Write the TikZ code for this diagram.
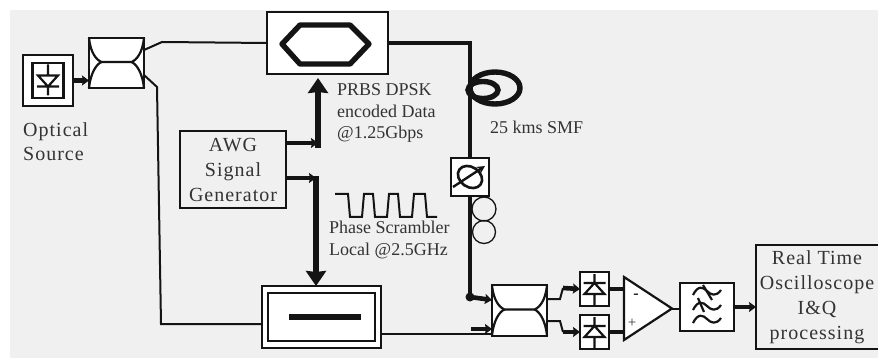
\documentclass[tikz,border=0pt]{standalone}
\usepackage{fontspec}
\setmainfont{Liberation Serif}
\newfontfamily\widefont[LetterSpace=5]{Liberation Serif}
\usetikzlibrary{shapes.geometric,arrows.meta,calc}
\definecolor{panel}{HTML}{F0F0F0}
\definecolor{ink}{HTML}{141414}
\definecolor{label}{HTML}{333333}

\begin{document}
\begin{tikzpicture}[
  x=1pt, y=-1pt,
  block/.style={rectangle, draw=ink, line width=2.2pt, fill=white, inner sep=0pt, outer sep=0pt, minimum width=#1},
  plainbox/.style={block=#1, fill=none, text=label, align=center, font=\widefont\fontsize{20}{25}\selectfont},
  txt/.style={text=label, align=left, inner sep=0pt, font=\fontsize{18}{21.5}\selectfont},
  fibre/.style={draw=ink, line width=2pt},
  span/.style={draw=ink, line width=4.6pt},
  bus/.style={draw=ink, line width=5.4pt, -{Stealth[length=15pt,width=20pt,inset=1pt]}},
  stub/.style={draw=ink, line width=4.6pt, -{Stealth[length=7pt,width=10pt,inset=1pt]}},
  symbol/.style={draw=ink, line width=2.2pt},
  waist/.pic={\draw[symbol] (-27.5,-25) .. controls (-26,-10) and (-20,-3) .. (-15,-1) -- (15,-1) .. controls (20,-3) and (26,-10) .. (27.5,-25);
    \draw[symbol] (-27.5,25) .. controls (-26,10) and (-20,1) .. (-15,-1) (15,-1) .. controls (20,1) and (26,10) .. (27.5,25);},
  diode/.pic={\draw[symbol] (0,-15) -- (0,-6) (0,5) -- (0,16) (-11,-6) -- (11,-6) (-10,5) -- (0,-6) -- (10,5) -- cycle;},
  squiggle/.pic={\draw[symbol] (-14,3) .. controls (-9,-7) and (-4,-5) .. (0,-1) .. controls (4,3) and (9,5) .. (14,-2);}
]
  \useasboundingbox (0,0) rectangle (878,358);
  \fill[panel] (10,10) rectangle (878,358);

  % blocks
  \node[block=50pt, minimum height=51pt] (src) at (48,80.5) {};
  \node[block=31pt, minimum height=35pt] (srcin) at (src.center) {};
  \node[block=55pt, minimum height=50pt] (coupA) at (116.5,63) {};
  \node[block=121pt, minimum height=62pt] (mzm) at (327.5,43) {};
  \node[plainbox=106pt, minimum height=77pt] (awg) at (233,169.5) {AWG\\Signal\\Generator};
  \node[block=119pt, minimum height=62pt] (mod) at (321.5,317) {};
  \node[block=107pt, minimum height=48pt] (modin) at (mod.center) {};
  \node[block=38pt, minimum height=38pt] (pol) at (470,177) {};
  \node[block=55pt, minimum height=51pt] (coupB) at (519.5,310.5) {};
  \node[block=29pt, minimum height=34pt] (pdA) at (594.5,289) {};
  \node[block=29pt, minimum height=34pt] (pdB) at (594.5,332) {};
  \node[isosceles triangle, isosceles triangle stretches, draw=ink, line width=2.2pt, fill=white, inner sep=0pt, outer sep=0pt, minimum width=63pt, minimum height=48pt, anchor=west] (amp) at (624,308.5) {};
  \node[block=54pt, minimum height=48pt] (filt) at (707,307) {};
  \node[plainbox=122pt, minimum height=104pt, draw=none] (scope) at (817,297) {Real Time\\Oscilloscope\\I\&Q\\processing};
  \draw[ink, line width=2.2pt] (scope.north east) -- (scope.north west) -- (scope.south west) -- (scope.south east);

  % symbols
  \pic at (coupA) {waist};
  \pic at (coupB) {waist};
  \pic[yscale=-1] at (srcin) {diode};
  \pic at (pdA) {diode};
  \pic at (pdB) {diode};
  \draw[ink, line width=5.4pt, line join=round] (282,44) -- (300,25) -- (350,25) -- (369,44) -- (350,64) -- (300,64) -- cycle;
  \fill[ink] (289,313.5) rectangle (361,319.5);
  \draw[ink, line width=2.6pt, rotate around={-35:(pol)}] (pol) ellipse (13pt and 10pt);
  \draw[ink, line width=2.4pt, -{Stealth[length=8pt,width=8pt]}] ([shift={(-17,10)}]pol.center) -- ([shift={(15,-11)}]pol.center);
  \pic at (707,292) {squiggle};
  \pic at (707,307) {squiggle};
  \pic at (707,320) {squiggle};
  \draw[symbol] (703,285) -- (712,300) (698,298) -- (704,312);
  \node[text=ink, inner sep=0pt, font=\bfseries\fontsize{16}{16}\selectfont] (minus) at (636,296) {-};
  \node[text=label, inner sep=0pt, font=\fontsize{15}{15}\selectfont] (plus) at (632,323) {+};

  % fibre spools
  \draw[ink, line width=5.4pt] (483,90) ellipse (15pt and 8.5pt);
  \draw[ink, line width=5.4pt] (495,88) ellipse (25pt and 16pt);
  \draw[ink, line width=1.3pt] (484,209) circle (12pt);
  \draw[ink, line width=1.3pt] (484,232) circle (11.5pt);

  % clock
  \draw[ink, line width=2pt] (335,194) -- (348,194) -- (350,217) -- (362,217) -- (364,194) -- (373,194) -- (375,217) -- (387,217) -- (389,194) -- (398,194) -- (400,217) -- (412,217) -- (414,194) -- (425,194) -- (427,217) -- (437,217);

  % connectors
  \coordinate (tap) at (470,297);
  \coordinate (splitB) at (161,324);
  \coordinate (awgtop) at (318,143);
  \coordinate (awglow) at (316,178);
  \coordinate (kinkA) at (563,288);
  \coordinate (kinkB) at (563,332);
  \coordinate (stubin) at (471,329);
  \draw[stub] (src.east) -- (src.east -| coupA.west);
  \draw[fibre] ([yshift=13pt]coupA.east) -- (162,42) -- (mzm.west);
  \draw[fibre] ([yshift=-12pt]coupA.east) -- (157,87) -- (splitB) -- (splitB -| mod.west);
  \draw[span] (mzm.east) -| (pol.north);
  \draw[span] (pol.south) -- (tap);
  \fill[ink] (tap) circle (4.5pt);
  \draw[stub] (tap) -- ([yshift=10.5pt]coupB.west);
  \draw[stub] (awg.east |- awgtop) -- (awgtop);
  \draw[bus, shorten >=4pt] ([yshift=-5pt]awgtop) -- (awgtop |- mzm.south);
  \draw[stub] (awg.east |- awglow) -- (awglow);
  \draw[bus] ([yshift=2pt]awglow) -- (awglow |- mod.north);
  \draw[fibre] (mod.east |- 0,334) -- (coupB.west |- 0,334);
  \draw[stub] (stubin) -- (stubin -| coupB.west);
  \draw[fibre] ([yshift=11.5pt]coupB.east) -- ++(13,0) -- (kinkA);
  \draw[fibre] ([yshift=-10.5pt]coupB.east) -- ++(13,0) -- (kinkB);
  \draw[stub] (kinkA) -- (pdA.west);
  \draw[stub] (kinkB) -- (pdB.west);
  \draw[span] (pdA.east) -- (pdA.east -| amp.west);
  \draw[span] (pdB.east) -- (pdB.east -| amp.west);
  \draw[fibre] (amp.east) -- (amp.east -| filt.west);
  \draw[stub] (filt.east) -- (filt.east -| scope.west);

  % labels
  \node[txt, anchor=west, font=\widefont\fontsize{20}{24}\selectfont] (srclabel) at (23,142) {Optical\\Source};
  \node[txt, anchor=west] (datalabel) at (337,113) {PRBS DPSK\\encoded Data\\@1.25Gbps};
  \node[txt, anchor=west] (smflabel) at (490,127) {25 kms SMF};
  \node[txt, anchor=west] (phaselabel) at (329,240) {Phase Scrambler\\Local @2.5GHz};
\end{tikzpicture}
\end{document}
